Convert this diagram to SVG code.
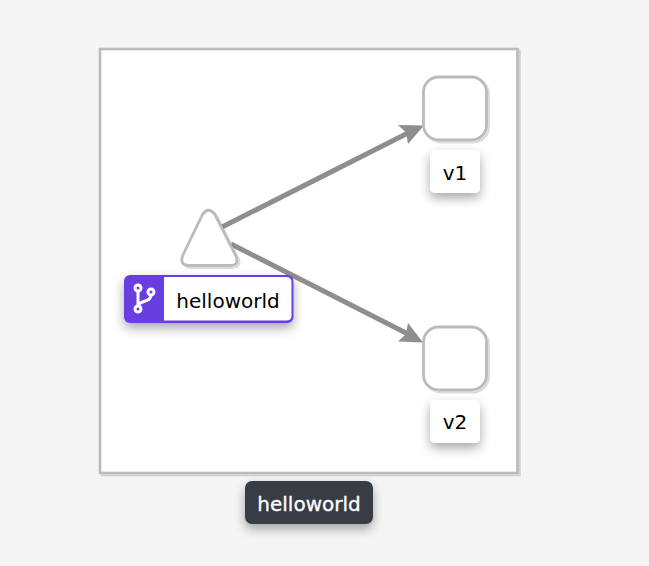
<svg xmlns="http://www.w3.org/2000/svg" width="649" height="566" viewBox="0 0 649 566">
<style>
text{font-family:"DejaVu Sans",sans-serif;font-size:20px;fill:#000;text-anchor:middle}
.n{fill:#fff;stroke:#bbb;stroke-width:2.800}
.e{fill:none;stroke:#8e8e8e;stroke-width:5}
.a{fill:#8e8e8e}
.l{fill:#fff;filter:url(#s)}
.i{fill:none;stroke:#fff;stroke-width:3}
</style>
<defs>
<filter id="s" x="-40%" y="-40%" width="180%" height="200%"><feDropShadow dx="0" dy="5" stdDeviation="5.500" flood-color="#000" flood-opacity=".34"/></filter>
<filter id="t" x="-10%" y="-10%" width="120%" height="120%"><feDropShadow dx="2" dy="2" stdDeviation=".6" flood-color="#000" flood-opacity=".14"/></filter>
</defs>
<rect width="649" height="566" fill="#f5f5f5"/>
<rect id="group" x="100" y="49" width="417.500" height="424" fill="#fff" stroke="#bbb" stroke-width="2.600" filter="url(#t)"/>
<g id="connectors">
<path class="e" d="M222 227L410 132"/>
<path class="a" d="M424 125.500L398 125L406 132.500L408 144Z"/>
<path class="e" d="M231 244L410 335"/>
<path class="a" d="M423 342.500L408 323L406 334L398 341.500Z"/>
</g>
<g id="service">
<path class="n" filter="url(#t)" d="M202.500 214.500Q208.500 206 215 214.500L236 256Q239.500 265.500 230 265.500L189 265.500Q179.500 265.500 182.500 256Z"/>
</g>
<g id="helloworld">
<rect x="124" y="275" width="169.500" height="48" rx="6" fill="#6a3de0" filter="url(#s)"/>
<path fill="#fff" d="M164 277H286Q291.500 277 291.500 282V316Q291.500 320.500 286 320.500H164Z"/>
<circle class="i" cx="138" cy="288" r="3"/><circle class="i" cx="151" cy="292" r="3"/><circle class="i" cx="138" cy="309" r="3"/>
<path class="i" d="M138 291V306M151 295C151 303 139 300 138 306"/>
<text x="228" y="307.500">helloworld</text>
</g>
<g id="v1">
<rect class="n" filter="url(#t)" x="423.500" y="77" width="63" height="63" rx="15"/>
<rect class="l" x="430" y="150" width="50" height="43" rx="5"/>
<text x="455" y="180">v1</text>
</g>
<g id="v2">
<rect class="n" filter="url(#t)" x="423.500" y="327" width="63" height="63" rx="15"/>
<rect class="l" x="430" y="400" width="50" height="43" rx="5"/>
<text x="455" y="429">v2</text>
</g>
<g id="app">
<rect x="245" y="481" width="128" height="43" rx="7" fill="#383d45" filter="url(#s)"/>
<text x="309" y="510.500" style="fill:#fff;stroke:#fff;stroke-width:.3">helloworld</text>
</g>
</svg>
